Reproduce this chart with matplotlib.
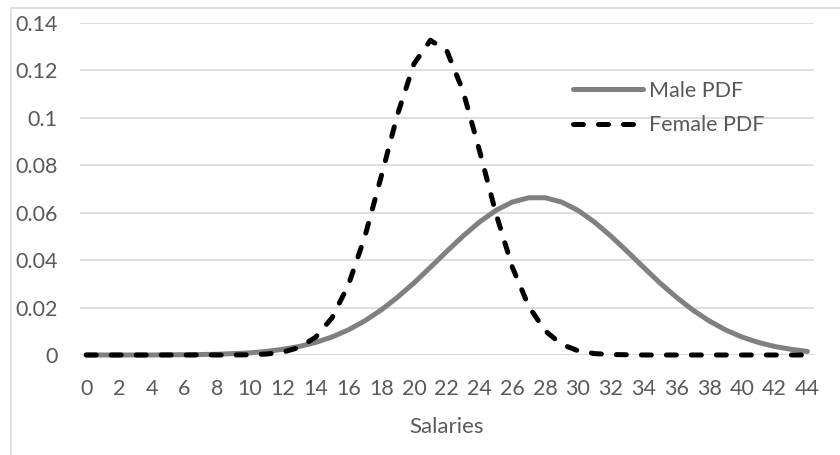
import matplotlib
matplotlib.use("Agg")
import matplotlib.pyplot as plt
from matplotlib.patches import Rectangle

plt.rcParams['font.family'] = ['Lato', 'DejaVu Sans']

salaries = list(range(0, 45))

male_pdf = [0.0000, 0.0000, 0.0000, 0.0000, 0.0000, 0.0001, 0.0001, 0.0002, 0.0003,
            0.0006, 0.0009, 0.0015, 0.0024, 0.0036, 0.0053, 0.0076, 0.0106, 0.0144,
            0.0190, 0.0244, 0.0304, 0.0370, 0.0437, 0.0502, 0.0561, 0.0610, 0.0645,
            0.0663, 0.0663, 0.0645, 0.0610, 0.0561, 0.0502, 0.0437, 0.0370, 0.0304,
            0.0244, 0.0190, 0.0144, 0.0106, 0.0076, 0.0053, 0.0036, 0.0024, 0.0015]

female_pdf = [0.0000, 0.0000, 0.0000, 0.0000, 0.0000, 0.0000, 0.0000, 0.0000, 0.0000,
              0.0000, 0.0001, 0.0004, 0.0012, 0.0032, 0.0075, 0.0157, 0.0296, 0.0499,
              0.0753, 0.1016, 0.1228, 0.1327, 0.1283, 0.1111, 0.0860, 0.0596, 0.0370,
              0.0205, 0.0102, 0.0045, 0.0018, 0.0006, 0.0002, 0.0001, 0.0000, 0.0000,
              0.0000, 0.0000, 0.0000, 0.0000, 0.0000, 0.0000, 0.0000, 0.0000, 0.0000]

x_labels = [str(s) for s in salaries[::2]]
y_ticks = [0, 0.02, 0.04, 0.06, 0.08, 0.1, 0.12, 0.14]
y_labels = ['0', '0.02', '0.04', '0.06', '0.08', '0.1', '0.12', '0.14']

fig = plt.figure(figsize=(8.4, 4.55), dpi=100)
ax = fig.add_axes([0.0952, 0.2198, 0.8738, 0.7297])

# outer chart frame
fig.patches.append(Rectangle((11 / 840, -0.1), 1.2, 1 - 8 / 455 + 0.1,
                             transform=fig.transFigure, fill=False,
                             edgecolor='#d9d9d9', lw=1.2))

ax.plot(salaries, male_pdf, color='#808080', lw=3.6, solid_capstyle='round',
        label='Male PDF', clip_on=False, zorder=3)
ax.plot(salaries, female_pdf, color='black', lw=3.6, linestyle=(0, (2.0, 3.0)),
        dash_capstyle='round', label='Female PDF', clip_on=False, zorder=4)

ax.set_xlim(-0.38, 44.4)
ax.set_ylim(0, 0.14)
ax.set_xticks(salaries[::2])
ax.set_xticklabels(x_labels)
ax.set_yticks(y_ticks)
ax.set_yticklabels(y_labels)
ax.tick_params(axis='both', length=0, labelsize=15.5, labelcolor='#595959')
ax.tick_params(axis='x', pad=17)
ax.tick_params(axis='y', pad=16)
ax.grid(axis='y', color='#d9d9d9', lw=1.2)
ax.set_axisbelow(True)
for s in ax.spines.values():
    s.set_visible(False)

ax.set_xlabel('Salaries', fontsize=16, color='#595959', labelpad=13)

ax.legend(loc='upper left', bbox_to_anchor=(0.645, 0.885), frameon=False,
          fontsize=15.5, labelcolor='#595959', handlelength=3.25,
          handletextpad=0.3, labelspacing=0.68)

fig.savefig('out.png', dpi=100)
